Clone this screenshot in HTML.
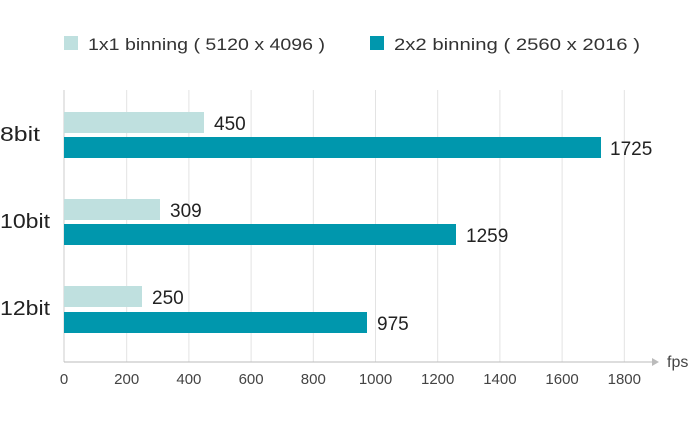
<!DOCTYPE html><html><head><style>body{margin:0;background:#fff}</style></head><body>
<svg width="700" height="420" xmlns="http://www.w3.org/2000/svg" font-family="Liberation Sans, sans-serif">
<rect x="64" y="36" width="14" height="14" fill="#bfe0df"/>
<text x="88" y="50" font-size="17" fill="#333" textLength="237" lengthAdjust="spacingAndGlyphs">1x1 binning ( 5120 x 4096 )</text>
<rect x="370" y="36" width="14" height="14" fill="#0097ad"/>
<text x="394" y="50" font-size="17" fill="#333" textLength="246" lengthAdjust="spacingAndGlyphs">2x2 binning ( 2560 x 2016 )</text>
<g stroke="#e3e3e3" stroke-width="1">
<line x1="126.7" y1="90" x2="126.7" y2="362"/><line x1="188.9" y1="90" x2="188.9" y2="362"/><line x1="251.1" y1="90" x2="251.1" y2="362"/><line x1="313.3" y1="90" x2="313.3" y2="362"/><line x1="375.5" y1="90" x2="375.5" y2="362"/><line x1="437.7" y1="90" x2="437.7" y2="362"/><line x1="499.9" y1="90" x2="499.9" y2="362"/><line x1="562.1" y1="90" x2="562.1" y2="362"/><line x1="624.3" y1="90" x2="624.3" y2="362"/>
</g>
<line x1="64" y1="90" x2="64" y2="362" stroke="#ccc"/>
<line x1="64" y1="362" x2="652" y2="362" stroke="#bbb"/>
<polygon points="652,358 659,362 652,366" fill="#bbb"/>
<text x="667" y="367" font-size="16" fill="#444">fps</text>
<g fill="#bfe0df"><rect x="64" y="112" width="140" height="21"/><rect x="64" y="199" width="96" height="21"/><rect x="64" y="286" width="78" height="21"/></g>
<g fill="#0097ad"><rect x="64" y="137" width="537" height="21"/><rect x="64" y="224" width="392" height="21"/><rect x="64" y="312" width="303" height="21"/></g>
<g font-size="19" fill="#222">
<text x="214" y="130">450</text><text x="610" y="155">1725</text>
<text x="170" y="217">309</text><text x="466" y="242">1259</text>
<text x="152" y="304">250</text><text x="377" y="330">975</text>
</g>
<g font-size="20" fill="#222">
<text x="0" y="141" textLength="40" lengthAdjust="spacingAndGlyphs">8bit</text><text x="0" y="228" textLength="50" lengthAdjust="spacingAndGlyphs">10bit</text><text x="0" y="315" textLength="50" lengthAdjust="spacingAndGlyphs">12bit</text>
</g>
<g font-size="15" fill="#444" text-anchor="middle">
<text x="64" y="384">0</text><text x="126.7" y="384">200</text><text x="188.9" y="384">400</text><text x="251.1" y="384">600</text><text x="313.3" y="384">800</text><text x="375.5" y="384">1000</text><text x="437.7" y="384">1200</text><text x="499.9" y="384">1400</text><text x="562.1" y="384">1600</text><text x="624.3" y="384">1800</text>
</g>
</svg></body></html>
